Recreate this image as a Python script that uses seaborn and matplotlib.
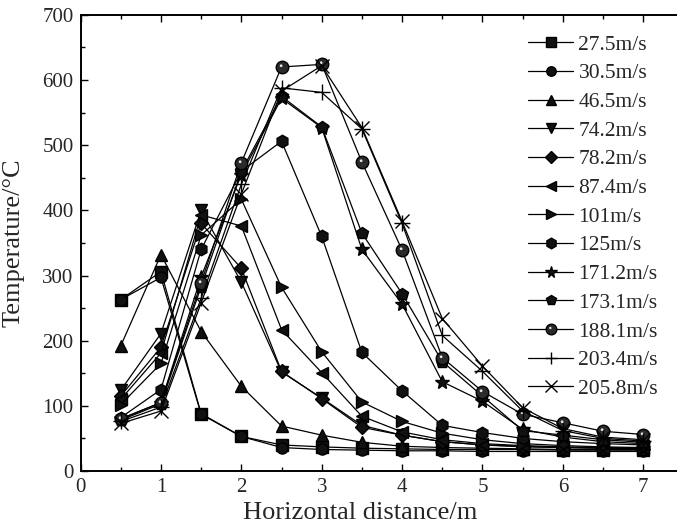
import numpy as np
import pandas as pd
import matplotlib
matplotlib.use("Agg")
import matplotlib.pyplot as plt
from matplotlib.path import Path
from matplotlib.ticker import MultipleLocator
from matplotlib.lines import Line2D
import seaborn as sns

# Measurement positions (m)
distance = [0.5, 1.0, 1.5, 2.0, 2.5, 3.0, 3.5, 4.0, 4.5, 5.0, 5.5, 6.0, 6.5, 7.0]

# Temperature (°C) for each ventilation velocity
t_27_5 = [263, 306, 88, 53, 40, 37, 35, 34, 33, 33, 33, 32, 32, 32]
t_30_5 = [263, 297, 87, 53, 36, 33, 32, 31, 31, 30, 30, 30, 30, 30]
t_46_5 = [192, 332, 214, 130, 69, 55, 44, 38, 36, 35, 34, 33, 33, 33]
t_74_2 = [124, 211, 400, 290, 152, 112, 70, 55, 45, 40, 38, 36, 35, 34]
t_78_2 = [115, 190, 380, 311, 153, 111, 67, 55, 45, 40, 37, 36, 35, 34]
t_87_4 = [110, 181, 393, 376, 217, 151, 84, 60, 48, 42, 39, 37, 36, 35]
t_101 = [102, 165, 362, 417, 282, 183, 106, 76, 58, 48, 42, 39, 37, 36]
t_125 = [82, 125, 340, 460, 506, 360, 182, 123, 70, 59, 50, 45, 42, 40]
t_171_2 = [80, 105, 298, 455, 572, 527, 340, 256, 137, 107, 64, 52, 45, 42]
t_173_1 = [78, 103, 283, 460, 575, 528, 365, 272, 168, 115, 62, 55, 48, 44]
t_188_1 = [80, 105, 289, 473, 620, 624, 474, 339, 174, 122, 87, 74, 61, 56]
t_203_4 = [76, 98, 265, 440, 588, 581, 525, 380, 208, 153, 92, 62, 50, 46]
t_205_8 = [73, 92, 258, 425, 583, 622, 527, 383, 234, 161, 97, 65, 52, 48]

labels = ["27.5m/s", "30.5m/s", "46.5m/s", "74.2m/s", "78.2m/s", "87.4m/s",
          "101m/s", "125m/s", "171.2m/s", "173.1m/s", "188.1m/s",
          "203.4m/s", "205.8m/s"]
series = [t_27_5, t_30_5, t_46_5, t_74_2, t_78_2, t_87_4, t_101, t_125,
          t_171_2, t_173_1, t_188_1, t_203_4, t_205_8]

BALL = "ball"


def highlight_path():
    """Small off-centre spot; two bare MOVETO corners keep the marker scale."""
    spot = Path.circle(center=(-0.22, 0.28), radius=0.22)
    verts = np.concatenate([[[1.0, 1.0]], [[-1.0, -1.0]], spot.vertices])
    codes = np.concatenate([[Path.MOVETO, Path.MOVETO], spot.codes])
    return Path(verts, codes)


HIGHLIGHT = highlight_path()

markers = ["s", "o", "^", "v", "D", "<", ">", "h", "*", "p",
           BALL, "+", "x"]
sizes = [8, 8, 9, 9, 7, 9, 9, 9, 10, 9, 9, 11, 10]

sns.set_style("ticks")
plt.rcParams["font.family"] = ["Liberation Serif", "DejaVu Serif"]
plt.rcParams["mathtext.fontset"] = "stix"

fig = plt.figure(figsize=(6.77, 5.31), dpi=100)
ax = fig.add_axes([0.119, 0.113, 0.881, 0.859])

handles = []
for lab, vals, mk, ms in zip(labels, series, markers, sizes):
    df = pd.DataFrame({"distance": distance, "temperature": vals})
    base = "o" if mk == BALL else mk
    face = "#2a2a2a" if mk == BALL else "#111111"
    sns.lineplot(data=df, x="distance", y="temperature", ax=ax,
                 color="black", linewidth=0.9, marker=base, markersize=ms,
                 markeredgecolor="black", markerfacecolor=face,
                 markeredgewidth=1.0, legend=False)
    h = Line2D([], [], color="black", linewidth=0.9, marker=base,
               markersize=ms * 0.85, markeredgecolor="black",
               markerfacecolor=face, markeredgewidth=1.0)
    if mk == BALL:
        # glossy spot on top of each ball
        sns.lineplot(data=df, x="distance", y="temperature", ax=ax,
                     linestyle="none", marker=HIGHLIGHT, markersize=ms,
                     markeredgewidth=0, markerfacecolor="#e6e6e6",
                     color="#e6e6e6", legend=False)
        hl = Line2D([], [], linestyle="none", marker=HIGHLIGHT,
                    markersize=ms * 0.85, markeredgewidth=0,
                    markerfacecolor="#e6e6e6")
        h = (h, hl)
    handles.append(h)

ax.set_xlim(0, 7.42)
ax.set_ylim(0, 700)
ax.xaxis.set_major_locator(MultipleLocator(1))
ax.xaxis.set_minor_locator(MultipleLocator(0.5))
ax.yaxis.set_major_locator(MultipleLocator(100))
ax.yaxis.set_minor_locator(MultipleLocator(50))
ax.tick_params(which="both", direction="in", top=True, right=False,
               labelsize=15, width=1.0, color="black")
ax.tick_params(which="major", length=5, pad=5)
ax.tick_params(which="minor", length=3)
for side in ["left", "bottom", "top"]:
    ax.spines[side].set_linewidth(1.4)
    ax.spines[side].set_color("black")
ax.spines["right"].set_visible(False)

ax.set_xlabel("Horizontal distance/m", fontsize=19)
ax.set_ylabel("Temperature/\u00b0C", fontsize=19)
ax.xaxis.set_label_coords(0.468, -0.068)
ax.yaxis.set_label_coords(-0.094, 0.5)

ax.legend(handles, labels, loc="upper right", bbox_to_anchor=(0.99, 0.985),
          frameon=False, fontsize=15.5, handlelength=2.1, handletextpad=0.25,
          labelspacing=0.4, borderaxespad=0.2)

fig.savefig("out.png", dpi=100)
